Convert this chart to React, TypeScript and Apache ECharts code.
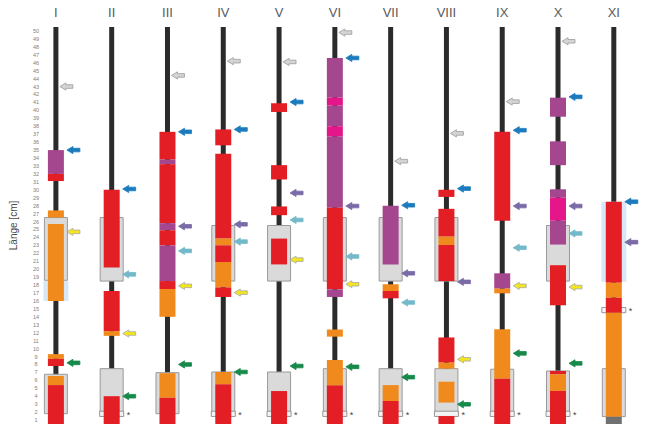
import { useEffect, useRef } from 'react';
import * as echarts from 'echarts';

const COLUMNS = ['I', 'II', 'III', 'IV', 'V', 'VI', 'VII', 'VIII', 'IX', 'X', 'XI'];
const LENGTH_TICKS = ['1', '2', '3', '4', '5', '6', '7', '8', '9', '10', '11', '12', '13', '14', '15', '16', '17', '18', '19', '20', '21', '22', '23', '24', '25', '26', '27', '28', '29', '30', '31', '32', '33', '34', '35', '36', '37', '38', '39', '40', '41', '42', '43', '44', '45', '46', '47', '48', '49', '50'];
const CORE_LENGTH = [50, 50, 50, 50, 50, 50, 50, 50, 50, 50, 50];

// [column, from cm, to cm, kind]  r=red o=orange p=purple m=magenta g=grey
const SEGMENTS: [number, number, number, string][] = [
  [0, 31.5, 34.5, 'p'], [0, 30.6, 31.5, 'r'], [0, 26.0, 26.9, 'o'], [0, 15.5, 25.2, 'o'], [0, 8.2, 8.8, 'o'], [0, 7.3, 8.2, 'r'], [0, 4.9, 6.05, 'o'], [0, 0, 4.9, 'r'],
  [1, 19.7, 29.5, 'r'], [1, 11.7, 16.75, 'r'], [1, 11.1, 11.7, 'o'], [1, 0, 3.5, 'r'],
  [2, 33.3, 36.8, 'r'], [2, 32.7, 33.3, 'p'], [2, 25.3, 32.7, 'r'], [2, 24.4, 25.3, 'p'], [2, 22.5, 24.4, 'r'], [2, 18.0, 22.5, 'p'], [2, 17.0, 18.0, 'r'], [2, 13.5, 17.0, 'o'], [2, 3.3, 6.4, 'o'], [2, 0, 3.3, 'r'],
  [3, 35.1, 37.1, 'r'], [3, 23.35, 34.05, 'r'], [3, 22.5, 23.35, 'o'], [3, 20.4, 22.5, 'r'], [3, 17.2, 20.4, 'o'], [3, 16.0, 17.2, 'r'], [3, 5.0, 6.55, 'o'], [3, 0, 5.0, 'r'],
  [4, 39.3, 40.4, 'r'], [4, 30.8, 32.6, 'r'], [4, 26.3, 27.4, 'r'], [4, 20.1, 23.35, 'r'], [4, 0, 4.15, 'r'],
  [5, 41.1, 46.1, 'p'], [5, 40.1, 41.1, 'm'], [5, 37.5, 40.1, 'p'], [5, 36.2, 37.5, 'm'], [5, 27.25, 36.2, 'p'], [5, 16.96, 27.25, 'r'], [5, 16.0, 16.96, 'p'], [5, 11.0, 11.9, 'o'], [5, 4.87, 8.06, 'o'], [5, 0, 4.87, 'r'],
  [6, 20.1, 27.5, 'p'], [6, 16.75, 17.6, 'o'], [6, 15.83, 16.75, 'r'], [6, 2.9, 4.9, 'o'], [6, 0, 2.9, 'r'],
  [7, 28.6, 29.5, 'r'], [7, 23.6, 27.1, 'r'], [7, 22.55, 23.6, 'o'], [7, 18.0, 22.55, 'r'], [7, 7.73, 10.9, 'r'], [7, 6.97, 7.73, 'o'], [7, 2.7, 5.33, 'o'], [7, 0, 1.0, 'r'],
  [8, 25.6, 36.8, 'r'], [8, 17.05, 18.98, 'p'], [8, 16.46, 17.05, 'o'], [8, 5.7, 11.93, 'o'], [8, 0, 5.7, 'r'],
  [9, 38.7, 41.1, 'p'], [9, 32.6, 35.6, 'p'], [9, 28.5, 29.56, 'p'], [9, 25.6, 28.5, 'm'], [9, 22.6, 25.6, 'p'], [9, 14.95, 20.0, 'r'], [9, 6.26, 6.68, 'r'], [9, 4.16, 6.26, 'o'], [9, 0, 4.16, 'r'],
  [10, 17.8, 28.0, 'r'], [10, 15.9, 17.8, 'o'], [10, 14.0, 15.9, 'r'], [10, 0.9, 14.0, 'o'], [10, 0, 0.9, 'g'],
];

// grey sample boxes [column, from, to]
const SAMPLE_BOXES: [number, number, number][] = [
  [0, 1.3, 6.26], [0, 18.1, 26.0],
  [1, 1.3, 6.97], [1, 18.0, 26.0],
  [2, 1.3, 6.47],
  [3, 1.3, 6.55], [3, 18.0, 25.0],
  [4, 1.3, 6.55], [4, 18.0, 25.0],
  [5, 1.3, 6.97], [5, 18.0, 26.0],
  [6, 1.3, 6.97], [6, 18.0, 26.0],
  [7, 1.3, 6.97], [7, 18.0, 26.0],
  [8, 1.3, 6.9],
  [9, 1.3, 6.68], [9, 18.0, 25.0],
  [10, 0.93, 6.97],
];

// light blue zones [column, from, to]
const BLUE_ZONES: [number, number, number][] = [
  [0, 15.5, 18.0],
  [10, 17.9, 28.0],
];

// asterisk marks [column, centre cm]
const STAR_MARKS: [number, number][] = [
  [1, 1.28], [3, 1.28], [4, 1.28], [5, 1.28], [6, 1.28], [7, 1.28], [8, 1.28], [9, 1.28], [10, 14.35],
];

// arrows [column, cm, kind]
const ARROWS: [number, number, string][] = [
  [0, 42.5, 'gray'], [0, 34.5, 'blue'], [0, 24.2, 'yellow'], [0, 7.7, 'green'],
  [1, 29.6, 'blue'], [1, 18.85, 'teal'], [1, 11.4, 'yellow'], [1, 3.5, 'green'],
  [2, 43.9, 'gray'], [2, 36.8, 'blue'], [2, 24.9, 'purple'], [2, 21.8, 'teal'], [2, 17.4, 'yellow'], [2, 7.5, 'green'],
  [3, 45.7, 'gray'], [3, 37.1, 'blue'], [3, 25.15, 'purple'], [3, 22.97, 'teal'], [3, 16.55, 'yellow'], [3, 6.55, 'green'],
  [4, 45.6, 'gray'], [4, 40.55, 'blue'], [4, 29.1, 'purple'], [4, 25.7, 'teal'], [4, 20.7, 'yellow'], [4, 7.3, 'green'],
  [5, 49.3, 'gray'], [5, 46.1, 'blue'], [5, 27.45, 'purple'], [5, 21.1, 'teal'], [5, 17.6, 'yellow'], [5, 7.2, 'green'],
  [6, 33.1, 'gray'], [6, 27.55, 'blue'], [6, 18.98, 'purple'], [6, 15.3, 'teal'], [6, 5.9, 'green'],
  [7, 36.6, 'gray'], [7, 29.65, 'blue'], [7, 17.9, 'purple'], [7, 8.15, 'yellow'], [7, 2.48, 'green'],
  [8, 40.6, 'gray'], [8, 37.0, 'blue'], [8, 27.45, 'purple'], [8, 22.2, 'teal'], [8, 17.4, 'yellow'], [8, 8.9, 'green'],
  [9, 48.2, 'gray'], [9, 41.2, 'blue'], [9, 27.45, 'purple'], [9, 24.0, 'teal'], [9, 17.25, 'yellow'], [9, 7.64, 'green'],
  [10, 28.0, 'blue'], [10, 22.9, 'purple'],
];

const SEG_COLORS: Record<string, string> = {
  r: '#e31e25',
  o: '#f08a1d',
  p: '#a4478e',
  m: '#e5158a',
  g: '#717171',
};

const ARROW_STYLES: Record<string, { fill: string; stroke: string }> = {
  gray: { fill: '#d4d4d4', stroke: '#9c9c9c' },
  blue: { fill: '#1b7bbd', stroke: '#1b7bbd' },
  purple: { fill: '#7a6aa7', stroke: '#7a6aa7' },
  teal: { fill: '#74b9ca', stroke: '#74b9ca' },
  yellow: { fill: '#f3e620', stroke: '#a8a8a8' },
  green: { fill: '#17894a', stroke: '#17894a' },
};

function bandRect(api: any, col: number, from: number, to: number, width: number) {
  const top = api.coord([col, to]);
  const bottom = api.coord([col, from]);
  return { x: top[0] - width / 2, y: top[1], width, height: bottom[1] - top[1] };
}

function buildOption() {
  return {
    animation: false,
    backgroundColor: '#ffffff',
    grid: { left: 26, right: 5.3, top: 27, height: 397.5 },
    xAxis: {
      type: 'category',
      position: 'top',
      data: COLUMNS,
      axisLine: { show: false },
      axisTick: { show: false },
      splitLine: { show: false },
      axisLabel: { fontSize: 13, color: '#5a5a5a', margin: 8, fontFamily: 'Liberation Sans', interval: 0 },
    },
    yAxis: [
      {
        type: 'value',
        min: 0,
        max: 50,
        show: false,
      },
      {
        type: 'category',
        data: LENGTH_TICKS,
        position: 'left',
        offset: -8,
        boundaryGap: true,
        axisLine: { show: false },
        axisTick: { show: false },
        splitLine: { show: false },
        axisLabel: { fontSize: 5.5, color: '#808080', margin: 0, align: 'center', interval: 0, fontFamily: 'Liberation Sans' },
        name: 'Länge [cm]',
        nameLocation: 'middle',
        nameGap: 18,
        nameRotate: 90,
        nameTextStyle: { fontSize: 10, color: '#4a4a4a', fontFamily: 'Liberation Sans' },
      },
    ],
    series: [
      {
        type: 'custom',
        name: 'core',
        xAxisIndex: 0,
        yAxisIndex: 0,
        data: CORE_LENGTH.map((len, i) => [i, 0, len]),
        renderItem: (params: any, api: any) => ({
          type: 'rect',
          shape: bandRect(api, api.value(0), api.value(1), api.value(2), 5),
          style: { fill: '#2b2b2b' },
        }),
      },
      {
        type: 'custom',
        name: 'zones',
        xAxisIndex: 0,
        yAxisIndex: 0,
        data: BLUE_ZONES.map((z) => [z[0], z[1], z[2]]),
        renderItem: (params: any, api: any) => ({
          type: 'rect',
          shape: bandRect(api, api.value(0), api.value(1), api.value(2), 25),
          style: { fill: '#d7e7f5' },
        }),
      },
      {
        type: 'custom',
        name: 'boxes',
        xAxisIndex: 0,
        yAxisIndex: 0,
        data: SAMPLE_BOXES.map((b) => [b[0], b[1], b[2]]),
        renderItem: (params: any, api: any) => ({
          type: 'rect',
          shape: bandRect(api, api.value(0), api.value(1), api.value(2), 23),
          style: { fill: '#dadada', stroke: '#9a9a9a', lineWidth: 1 },
        }),
      },
      {
        type: 'custom',
        name: 'stars',
        xAxisIndex: 0,
        yAxisIndex: 0,
        data: STAR_MARKS.map((s) => [s[0], s[1]]),
        renderItem: (params: any, api: any) => {
          const col = api.value(0);
          const v = api.value(1);
          const r = bandRect(api, col, v - 0.33, v + 0.33, 24);
          const c = api.coord([col, v]);
          return {
            type: 'group',
            children: [
              { type: 'rect', shape: r, style: { fill: '#f4f4f4', stroke: '#8c8c8c', lineWidth: 0.9 } },
              {
                type: 'text',
                x: c[0] + 15,
                y: c[1] + 1,
                style: { text: '*', fontSize: 9, fill: '#444', textAlign: 'left', textVerticalAlign: 'middle', fontFamily: 'Liberation Sans' },
              },
            ],
          };
        },
      },
      {
        type: 'custom',
        name: 'segments',
        xAxisIndex: 0,
        yAxisIndex: 0,
        data: SEGMENTS.map((s) => [s[0], s[1], s[2]]),
        renderItem: (params: any, api: any) => {
          const seg = SEGMENTS[params.dataIndex];
          return {
            type: 'rect',
            shape: bandRect(api, api.value(0), api.value(1), api.value(2), 16),
            style: { fill: SEG_COLORS[seg[3]] },
          };
        },
      },
      {
        type: 'custom',
        name: 'arrows',
        xAxisIndex: 0,
        yAxisIndex: 0,
        data: ARROWS.map((a) => [a[0], a[1]]),
        renderItem: (params: any, api: any) => {
          const a = ARROWS[params.dataIndex];
          const c = api.coord([api.value(0), api.value(1)]);
          const st = ARROW_STYLES[a[2]];
          const x0 = c[0] + (a[2] === 'gray' ? 4 : 11);
          const y = c[1];
          const pts = [
            [x0, y],
            [x0 + 6, y - 3.6],
            [x0 + 6, y - 1.8],
            [x0 + 13, y - 1.8],
            [x0 + 13, y + 1.8],
            [x0 + 6, y + 1.8],
            [x0 + 6, y + 3.6],
          ];
          return {
            type: 'polygon',
            shape: { points: pts },
            style: { fill: st.fill, stroke: st.stroke, lineWidth: 0.8 },
          };
        },
      },
    ],
  };
}

export default function App() {
  const ref = useRef<HTMLDivElement>(null);
  useEffect(() => {
    if (!ref.current) return;
    const chart = echarts.init(ref.current, null, { renderer: 'svg' });
    chart.setOption(buildOption() as any);
    return () => chart.dispose();
  }, []);
  return <div ref={ref} style={{ position: 'fixed', left: 0, top: 0, width: 647, height: 424 }} />;
}
